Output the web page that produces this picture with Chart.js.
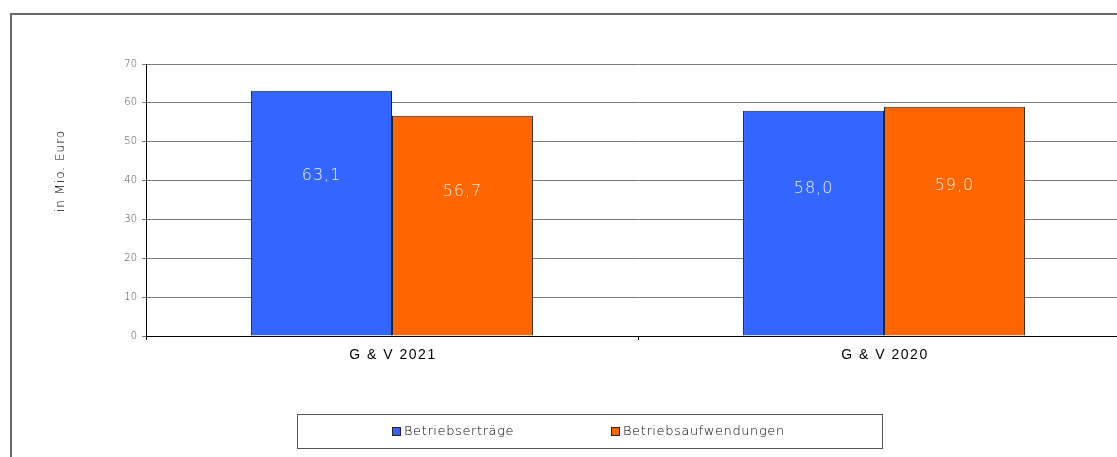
<!DOCTYPE html>
<html><head><meta charset="utf-8">
<script src="https://cdn.jsdelivr.net/npm/chart.js@4.4.0/dist/chart.umd.min.js"></script>
<style>html,body{margin:0;padding:0;overflow:hidden;background:#fff}canvas{display:block}</style>
</head><body>
<canvas id="c" width="1130" height="457"></canvas>
<script>
const categories = ["G & V 2021", "G & V 2020"];
const ertraege = [63.1, 58.0];
const aufwendungen = [56.7, 59.0];
const seriesNames = ["Betriebserträge", "Betriebsaufwendungen"];
const yTicks = [0, 10, 20, 30, 40, 50, 60, 70];
const yTitle = "in Mio. Euro";
const colors = ["#3366FF", "#FF6600"];

const fmt = v => v.toFixed(1).replace('.', ',');

const decor = {
  id: 'decor',
  beforeDraw(chart) {
    const ctx = chart.ctx;
    ctx.save();
    ctx.strokeStyle = '#6a6a6a';
    ctx.lineWidth = 2;
    ctx.beginPath();
    ctx.moveTo(11, 470); ctx.lineTo(11, 14); ctx.lineTo(1200, 14);
    ctx.stroke();
    // y title
    ctx.translate(61, 171);
    ctx.rotate(-Math.PI / 2);
    ctx.font = '200 12px "DejaVu Sans", sans-serif';
    ctx.letterSpacing = '1px';
    ctx.fillStyle = '#000';
    ctx.textAlign = 'center';
    ctx.textBaseline = 'middle';
    ctx.fillText(yTitle, 0, 0);
    ctx.restore();
  },
  afterDatasetsDraw(chart) {
    const ctx = chart.ctx;
    const y = chart.scales.y;
    const x = chart.scales.x;
    ctx.save();
    // category labels
    ctx.font = '14px Arial, "Liberation Sans", sans-serif';
    ctx.letterSpacing = '1.5px';
    ctx.fillStyle = '#000';
    ctx.textAlign = 'center';
    ctx.textBaseline = 'middle';
    categories.forEach((c, i) => ctx.fillText(c, x.getPixelForValue(i) + 1, 355));
    // data labels
    ctx.font = '200 16px "DejaVu Sans", sans-serif';
    ctx.letterSpacing = '1px';
    chart.data.datasets.forEach((ds, di) => {
      const meta = chart.getDatasetMeta(di);
      meta.data.forEach((bar, i) => {
        const v = ds.data[i];
        ctx.fillStyle = di === 0 ? '#f2f5ff' : '#fff4ea';
        ctx.fillText(fmt(v), bar.x, y.getPixelForValue(v * 0.655));
      });
    });
    // legend
    ctx.letterSpacing = '0.6px';
    ctx.strokeStyle = '#555';
    ctx.lineWidth = 1;
    ctx.strokeRect(297.5, 414.5, 585, 34);
    ctx.font = '200 13px "DejaVu Sans", sans-serif';
    ctx.textAlign = 'left';
    const items = [[392, seriesNames[0], colors[0]], [611, seriesNames[1], colors[1]]];
    items.forEach(([lx, t, c]) => {
      ctx.fillStyle = c;
      ctx.fillRect(lx + 0.5, 427.5, 8, 8);
      ctx.strokeStyle = '#222';
      ctx.strokeRect(lx + 0.5, 427.5, 8, 8);
      ctx.fillStyle = '#000';
      ctx.fillText(t, lx + 12, 432);
    });
    ctx.restore();
  }
};

new Chart(document.getElementById('c'), {
  type: 'bar',
  data: {
    labels: categories,
    datasets: [
      { label: seriesNames[0], data: ertraege, backgroundColor: colors[0], borderColor: '#222', borderWidth: 1 },
      { label: seriesNames[1], data: aufwendungen, backgroundColor: colors[1], borderColor: '#222', borderWidth: 1 }
    ]
  },
  options: {
    responsive: false,
    animation: false,
    layout: { padding: { left: 55, top: 64, right: 0, bottom: 81 } },
    datasets: { bar: { barPercentage: 1, categoryPercentage: 0.573 } },
    plugins: { legend: { display: false }, tooltip: { enabled: false } },
    scales: {
      x: {
        afterFit(s) { s.height = 40; },
        grid: { offset: true, drawOnChartArea: false, drawTicks: true, tickLength: 4, color: '#000' },
        border: { color: '#000', width: 1 },
        ticks: { display: false }
      },
      y: {
        min: 0, max: 70,
        afterFit(s) { s.width = 91; },
        afterBuildTicks(s) { s.ticks = yTicks.map(v => ({ value: v })); },
        grid: { color: '#7a7a7a', tickLength: 4, lineWidth: 1 },
        border: { color: '#000', width: 1 },
        ticks: { color: '#444', font: { family: '"DejaVu Sans", sans-serif', size: 10, weight: 200 }, padding: 5 }
      }
    }
  },
  plugins: [decor]
});
</script>
</body></html>
